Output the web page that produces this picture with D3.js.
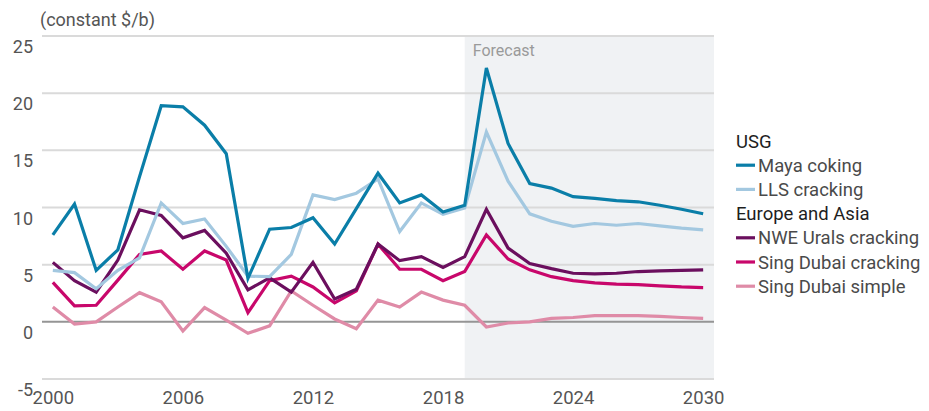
<!DOCTYPE html>
<html>
<head>
<meta charset="utf-8">
<script src="https://cdn.jsdelivr.net/npm/d3@7"></script>
<style>
  html, body { margin: 0; padding: 0; background: #fff; }
  svg { display: block; font-family: Roboto, "Noto Sans", sans-serif; }
</style>
</head>
<body>
<svg id="chart" width="929" height="411"></svg>
<script>
// ---- data ----
const years = d3.range(2000, 2031);
const mayaCoking = [7.6, 10.3, 4.5, 6.3, 12.7, 18.9, 18.8, 17.2, 14.7, 3.8,
  8.1, 8.25, 9.1, 6.8, 9.9, 13.0, 10.4, 11.1, 9.6, 10.2,
  22.2, 15.6, 12.1, 11.7, 10.95, 10.8, 10.6, 10.5, 10.2, 9.85, 9.45];
const llsCracking = [4.5, 4.3, 2.9, 4.5, 5.6, 10.4, 8.6, 9.0, 6.6, 4.0,
  3.95, 5.9, 11.1, 10.7, 11.25, 12.5, 7.9, 10.4, 9.4, 9.95,
  16.6, 12.3, 9.45, 8.8, 8.35, 8.6, 8.45, 8.6, 8.4, 8.2, 8.05];
const nweUralsCracking = [5.2, 3.6, 2.6, 5.4, 9.8, 9.3, 7.35, 8.0, 6.0, 2.8,
  3.85, 2.6, 5.2, 2.0, 2.85, 6.8, 5.35, 5.7, 4.75, 5.7,
  9.85, 6.45, 5.1, 4.65, 4.25, 4.2, 4.25, 4.4, 4.45, 4.5, 4.55];
const singDubaiCracking = [3.45, 1.4, 1.45, 3.65, 5.9, 6.2, 4.6, 6.2, 5.4, 0.8,
  3.6, 4.0, 3.05, 1.65, 2.7, 6.8, 4.6, 4.6, 3.6, 4.4,
  7.6, 5.5, 4.55, 3.95, 3.6, 3.4, 3.3, 3.25, 3.15, 3.05, 3.0];
const singDubaiSimple = [1.3, -0.2, 0.0, 1.3, 2.55, 1.75, -0.8, 1.25, 0.15, -1.0,
  -0.35, 2.7, 1.45, 0.25, -0.6, 1.9, 1.3, 2.6, 1.9, 1.45,
  -0.45, -0.1, 0.0, 0.3, 0.38, 0.55, 0.55, 0.55, 0.47, 0.38, 0.3];

const seriesNames = ["Maya coking", "LLS cracking", "NWE Urals cracking", "Sing Dubai cracking", "Sing Dubai simple"];
const seriesValues = [mayaCoking, llsCracking, nweUralsCracking, singDubaiCracking, singDubaiSimple];
const seriesColors = ["#0a7ea8", "#a3c8e0", "#6b0f5e", "#c8076b", "#df8ba7"];
const legendGroups = [
  { title: "USG", items: [0, 1] },
  { title: "Europe and Asia", items: [2, 3, 4] }
];
const yTicks = [-5, 0, 5, 10, 15, 20, 25];
const xTicks = [2000, 2006, 2012, 2018, 2024, 2030];
const forecastStart = 2019;
const yLabel = "(constant $/b)";
const forecastLabel = "Forecast";

// ---- chart ----
const svg = d3.select("#chart");
const x = d3.scaleLinear().domain([1999.5, 2030.5]).range([42, 714]);
const y = d3.scaleLinear().domain([-5, 25]).range([379, 36]);

// forecast shading
svg.append("rect")
  .attr("x", x(forecastStart)).attr("y", y(25))
  .attr("width", x(2030.5) - x(forecastStart))
  .attr("height", y(-5) - y(25))
  .attr("fill", "#f0f2f4");

// gridlines
svg.append("g").selectAll("line").data(yTicks).join("line")
  .attr("x1", x.range()[0]).attr("x2", x.range()[1])
  .attr("y1", d => y(d)).attr("y2", d => y(d))
  .attr("stroke", d => d === 0 ? "#959595" : "#dadada")
  .attr("stroke-width", 2);

// y axis labels
const yAxis = d3.axisLeft(y).tickValues(yTicks).tickFormat(d => String(d)).tickSize(0).tickPadding(0);
const gy = svg.append("g").attr("transform", "translate(33,0)").call(yAxis);
gy.select(".domain").remove();
gy.selectAll("text")
  .attr("font-size", 18).attr("fill", "#555").attr("font-family", "Roboto, sans-serif")
  .attr("dy", "0.92em").attr("x", 0);

// x axis labels
const xAxis = d3.axisBottom(x).tickValues(xTicks).tickFormat(d3.format("d")).tickSize(0).tickPadding(0);
const gx = svg.append("g").attr("transform", "translate(0,391)").call(xAxis);
gx.select(".domain").remove();
gx.selectAll("text")
  .attr("font-size", 18.5).attr("fill", "#555").attr("font-family", "Roboto, sans-serif")
  .attr("dy", "0.71em");

// y label
svg.append("text").attr("x", 40).attr("y", 26)
  .attr("font-size", 18).attr("fill", "#555").text(yLabel);

// forecast label
svg.append("text").attr("x", x(forecastStart) + 8).attr("y", 56)
  .attr("font-size", 16).attr("fill", "#9a9a9a").text(forecastLabel);

// lines
const line = d3.line().x((d, i) => x(years[i])).y(d => y(d));
const order = [4, 3, 2, 1, 0];
svg.append("g").selectAll("path").data(order).join("path")
  .attr("d", i => line(seriesValues[i]))
  .attr("fill", "none")
  .attr("stroke", i => seriesColors[i])
  .attr("stroke-width", 3.2)
  .attr("stroke-linejoin", "miter");

// legend
const lg = svg.append("g");
let ly = 141;
const rowH = 24.2;
legendGroups.forEach(g => {
  lg.append("text").attr("x", 736).attr("y", ly + 6.5)
    .attr("font-size", 18.5).attr("fill", "#1e1e1e").text(g.title);
  ly += rowH;
  g.items.forEach(i => {
    lg.append("line").attr("x1", 736).attr("x2", 755)
      .attr("y1", ly).attr("y2", ly)
      .attr("stroke", seriesColors[i]).attr("stroke-width", 3.2);
    lg.append("text").attr("x", 758).attr("y", ly + 6.5)
      .attr("font-size", 18.5).attr("fill", "#4a4a4a").text(seriesNames[i]);
    ly += rowH;
  });
});
</script>
</body>
</html>
